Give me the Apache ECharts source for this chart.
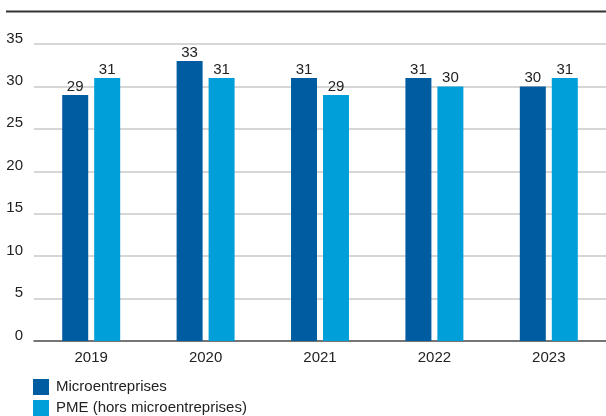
<!DOCTYPE html>
<html>
<head>
<meta charset="utf-8">
<style>
  html, body { margin: 0; padding: 0; background: #fff; }
  #chart { width: 606px; height: 416px; }
</style>
<script src="https://cdn.jsdelivr.net/npm/echarts@6/dist/echarts.min.js"></script>
</head>
<body>
<div id="chart"></div>
<script>
// Share of firms, by year
const years = ['2019', '2020', '2021', '2022', '2023'];
const microValues = [29, 33, 31, 31, 30];
const pmeValues = [31, 31, 29, 30, 31];
const seriesNames = ['Microentreprises', 'PME (hors microentreprises)'];
const yTicks = { min: 0, max: 35, interval: 5 };

const DARK = '#005ca1';
const LIGHT = '#009fda';
const FONT = '"Liberation Sans", Arial, sans-serif';

const chart = echarts.init(document.getElementById('chart'), null, { renderer: 'canvas' });

const labelStyle = {
  show: true,
  position: 'top',
  distance: 1,
  color: '#222',
  fontSize: 15,
  fontFamily: FONT
};

chart.setOption({
  animation: false,
  textStyle: { fontFamily: FONT },
  graphic: [{
    type: 'line',
    shape: { x1: 6, y1: 11.5, x2: 606, y2: 11.5 },
    style: { stroke: '#333', lineWidth: 2 }
  }],
  legend: {
    orient: 'vertical',
    left: 33,
    top: 379,
    itemWidth: 16,
    itemHeight: 16,
    itemGap: 5,
    icon: 'rect',
    textStyle: { color: '#222', fontSize: 15, fontFamily: FONT, padding: [0, 0, 0, 2] },
    padding: 0,
    data: seriesNames
  },
  grid: { left: 34, right: 0, top: 44, bottom: 75, containLabel: false },
  xAxis: {
    type: 'category',
    data: years,
    axisLine: { show: true, lineStyle: { color: '#555', width: 1.5 } },
    axisTick: { show: false },
    axisLabel: { color: '#222', fontSize: 15, fontFamily: FONT, margin: 9 }
  },
  yAxis: {
    type: 'value',
    min: yTicks.min,
    max: yTicks.max,
    interval: yTicks.interval,
    axisLine: { show: false },
    axisTick: { show: false },
    axisLabel: {
      color: '#222', fontSize: 15, fontFamily: FONT, margin: 11,
      verticalAlign: 'bottom', padding: [0, 0, -2, 0]
    },
    splitLine: { lineStyle: { color: '#c8c8c8', width: 1.5 } }
  },
  series: [
    {
      name: seriesNames[0],
      type: 'bar',
      data: microValues,
      barWidth: 26,
      barGap: '23%',
      itemStyle: { color: DARK },
      label: labelStyle
    },
    {
      name: seriesNames[1],
      type: 'bar',
      data: pmeValues,
      barWidth: 26,
      itemStyle: { color: LIGHT },
      label: labelStyle
    }
  ]
});
</script>
</body>
</html>
